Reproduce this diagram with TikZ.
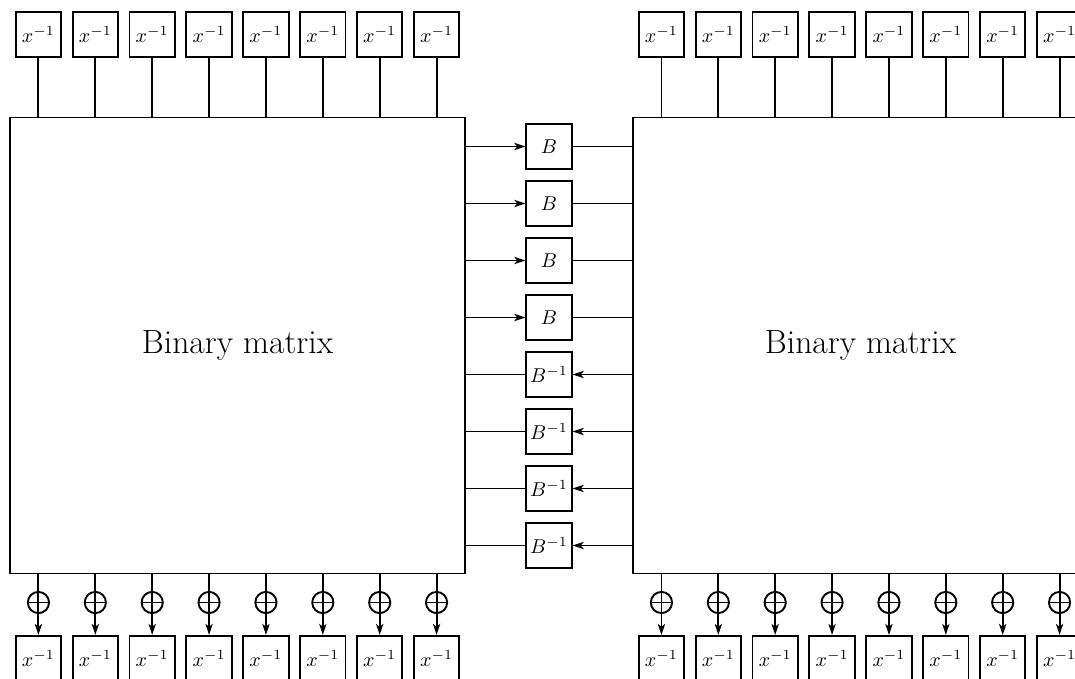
\documentclass[tikz,border=0pt]{standalone}
\usepackage{fontspec}
\usetikzlibrary{arrows.meta}
\tikzset{
  wire/.style={line width=0.95pt},
  flow/.style={wire,-{Stealth[length=5.5pt,width=3.6pt,inset=1.4pt]}},
  matbox/.style={draw,line width=0.95pt,minimum width=227.5pt,minimum height=228pt,inner sep=0pt,
    font=\fontsize{16.8}{20}\selectfont},
  delaybox/.style={draw,line width=0.95pt,minimum size=22.7pt,inner sep=0pt,
    font=\fontsize{10.2}{12}\selectfont},
  xorgate/.style={draw,circle,line width=0.95pt,minimum size=10.6pt,inner sep=0pt,
    path picture={\draw[line width=0.95pt]
      (path picture bounding box.west) -- (path picture bounding box.east)
      (path picture bounding box.north) -- (path picture bounding box.south);}}
}
\begin{document}
\begin{tikzpicture}[x=0.5pt,y=-0.5pt]
\clip (0,0) rectangle (1075,679);

% the two matrices
\node[matbox] (L) at (237.5,345.5) {Binary matrix};
\node[matbox] (R) at (860.5,345.5) {Binary matrix};

% delay elements above and below each matrix, with the XOR gates
\foreach \m/\x in {L/38.44, R/661.44} {
  \foreach \k in {0,...,7} {
    \node[delaybox] (top\m\k) at ({\x+56.875*\k},34.5) {$x^{-1}$};
    \node[delaybox] (bot\m\k) at ({\x+56.875*\k},658.6) {$x^{-1}$};
    \node[xorgate] (xor\m\k) at ({\x+56.875*\k},602.5) {};
    \draw[wire] (top\m\k.south) -- (top\m\k.south |- \m.north);
    \draw[wire] (xor\m\k.north |- \m.south) -- (xor\m\k.north);
    \draw[flow] (xor\m\k.south) -- (bot\m\k.north);
  }
}

% forward links B
\foreach \k in {0,...,3} {
  \node[delaybox] (b\k) at (549,{146.5+57*\k}) {$B$};
  \draw[flow] (b\k.west -| L.east) -- (b\k.west);
  \draw[wire] (b\k.east) -- (b\k.east -| R.west);
}
% backward links B^{-1}
\foreach \k in {4,...,7} {
  \node[delaybox] (b\k) at (549,{146.5+57*\k}) {$B^{-1}$};
  \draw[flow] (b\k.east -| R.west) -- (b\k.east);
  \draw[wire] (b\k.west) -- (b\k.west -| L.east);
}
\end{tikzpicture}
\end{document}
